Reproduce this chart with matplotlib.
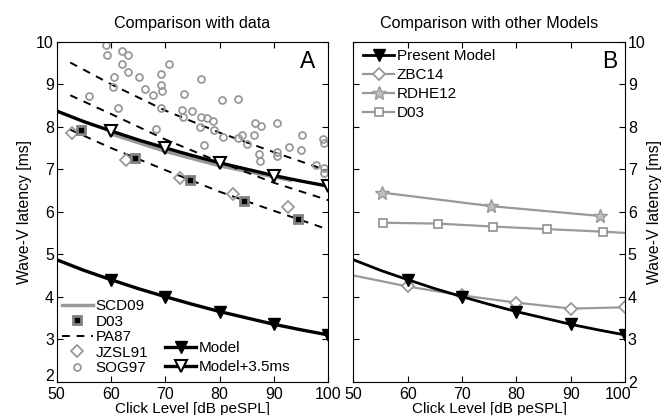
import matplotlib
matplotlib.use("Agg")
import matplotlib.pyplot as plt
import matplotlib.transforms as mtransforms
import numpy as np

plt.rcParams['font.family'] = ['Liberation Sans', 'DejaVu Sans']
plt.rcParams['font.size'] = 11

# --- data ---
levels = [50, 55, 60, 65, 70, 75, 80, 85, 90, 95, 100]
model = [4.87, 4.62, 4.40, 4.19, 4.00, 3.82, 3.65, 3.50, 3.35, 3.22, 3.10]
shift = 3.5

scd09_x = [60, 70, 80, 90, 93]
scd09_y = [7.83, 7.42, 7.08, 6.82, 6.74]

d03_x = [54.5, 64.5, 74.5, 84.5, 94.5]
d03_y = [7.93, 7.27, 6.75, 6.25, 5.83]

jzsl_x = [52.8, 62.8, 72.7, 82.5, 92.6]
jzsl_y = [7.86, 7.22, 6.80, 6.42, 6.10]

pa87_x = [52.5, 60, 70, 80, 90, 100]
pa87_hi = [9.51, 9.00, 8.38, 7.86, 7.40, 6.96]
pa87_mid = [8.74, 8.30, 7.70, 7.17, 6.68, 6.27]
pa87_lo = [7.93, 7.50, 6.98, 6.47, 6.02, 5.58]

sog97_x = [59.1, 59.2, 62.0, 63.1, 62.0, 63.1, 60.6, 60.4, 65.2, 70.6,
           69.2, 69.2, 69.3, 66.3, 67.8, 56.0, 61.2, 69.2, 73.4, 73.0,
           73.3, 74.9, 68.2, 76.5, 80.4, 83.4, 76.5, 77.7, 78.8, 76.4,
           79.0, 80.6, 84.1, 83.4, 86.4, 86.5, 87.6, 90.6, 95.1, 99.0,
           99.3, 77.1, 92.7, 85.0, 87.3, 87.4, 90.5, 90.6, 95.0, 97.8,
           99.3, 99.3]
sog97_y = [9.92, 9.69, 9.79, 9.69, 9.48, 9.29, 9.16, 8.93, 9.16, 9.48,
           9.25, 8.99, 8.83, 8.89, 8.75, 8.72, 8.45, 8.45, 8.77, 8.40,
           8.23, 8.36, 7.95, 9.13, 8.63, 8.65, 8.24, 8.20, 8.14, 7.99,
           7.92, 7.76, 7.80, 7.73, 7.80, 8.09, 8.01, 8.09, 7.80, 7.71,
           7.61, 7.58, 7.52, 7.59, 7.36, 7.19, 7.41, 7.31, 7.44, 7.10,
           7.02, 6.90]

# other models (panel B)
zbc_x = [50, 60, 70, 80, 90, 100]
zbc_y = [4.50, 4.24, 4.03, 3.86, 3.72, 3.75]
rdhe_x = [55.3, 75.4, 95.4]
rdhe_y = [6.45, 6.13, 5.90]
d03b_x = [55.5, 65.5, 75.7, 85.7, 95.9, 105.9]
d03b_y = [5.74, 5.72, 5.65, 5.59, 5.53, 5.46]

gray = '0.6'
model = np.array(model)

fig = plt.figure(figsize=(6.62, 4.15), dpi=100)
axA = fig.add_axes([0.0856, 0.0803, 0.4103, 0.8192])
axB = fig.add_axes([0.5337, 0.0803, 0.4105, 0.8192])

def nudge(lbls, dx, dy):
    off = mtransforms.ScaledTranslation(dx / 72, dy / 72, fig.dpi_scale_trans)
    for lbl in lbls:
        lbl.set_transform(lbl.get_transform() + off)

def style(ax, lift):
    ax.set_xlim(50, 100)
    ax.set_ylim(2, 10)
    ax.set_xticks(range(50, 101, 10))
    ax.set_yticks(range(2, 11))
    ax.tick_params(direction='in', top=True, right=True, length=4,
                   labelsize=11.5, pad=2)
    ax.tick_params(axis='x', pad=3.5)
    for s in ax.spines.values():
        s.set_linewidth(0.8)
    ax.set_xlabel('Click Level [dB peSPL]', fontsize=11, labelpad=0)
    # lift the bottom "2" label a little, as in the original
    t0 = ax.yaxis.get_major_ticks()[0]
    nudge([t0.label1, t0.label2], 0, lift)

# ---------- panel A ----------
style(axA, 5)
l_scd, = axA.plot(scd09_x, scd09_y, color=gray, lw=2.5)
for yy in (pa87_hi, pa87_mid, pa87_lo):
    l_pa, = axA.plot(pa87_x, yy, 'k--', lw=1.4, dashes=(4, 3.5))
l_sog, = axA.plot(sog97_x, sog97_y, 'o', ls='none', mfc='none', mec=gray,
                  ms=5, mew=1.3)
l_jz, = axA.plot(jzsl_x, jzsl_y, 'D', ls='none', mfc='none', mec=gray,
                 ms=6.5, mew=1.3)
l_d03, = axA.plot(d03_x, d03_y, 's', ls='none', mfc='k', mec='0.5',
                  ms=6, mew=2)
l_mod, = axA.plot(levels, model, 'k-', lw=2.4, marker='v', ms=9,
                  markevery=slice(2, None, 2))
l_mod2, = axA.plot(levels, model + shift, 'k-', lw=2.4, marker='v', ms=9,
                   mfc='white', mew=1.5, markevery=slice(2, None, 2))
axA.set_ylabel('Wave-V latency [ms]', fontsize=11.3, labelpad=3)
axA.set_title('Comparison with data', fontsize=11.6, pad=10)
axA.text(0.952, 0.975, 'A', transform=axA.transAxes, ha='right', va='top',
         fontsize=16.5)

leg1 = axA.legend([l_scd, l_d03, l_pa, l_jz, l_sog],
                  ['SCD09', 'D03', 'PA87', 'JZSL91', 'SOG97'],
                  loc='upper left', bbox_to_anchor=(0.02, 0.242),
                  frameon=False, fontsize=11, handlelength=2.0,
                  handletextpad=0.2, labelspacing=0.09, borderpad=0,
                  borderaxespad=0)
axA.add_artist(leg1)
axA.legend([l_mod, l_mod2], ['Model', 'Model+3.5ms'],
           loc='upper left', bbox_to_anchor=(0.40, 0.12),
           frameon=False, fontsize=11, handlelength=2.0,
           handletextpad=0.2, labelspacing=0.33, borderpad=0,
           borderaxespad=0)

# ---------- panel B ----------
style(axB, 7)
axB.yaxis.tick_right()
axB.yaxis.set_label_position('right')
axB.tick_params(left=True, right=True, direction='in')
tl = axB.xaxis.get_major_ticks()[-1]
nudge([tl.label1], -5, 0)
b_mod, = axB.plot(levels, model, 'k-', lw=2.0, marker='v', ms=9,
                  markevery=slice(2, None, 2), zorder=3)
b_zbc, = axB.plot(zbc_x, zbc_y, '-', color=gray, lw=1.6, marker='D',
                  mfc='white', mec=gray, ms=6.5, mew=1.3,
                  markevery=slice(1, None))
b_rdhe, = axB.plot(rdhe_x, rdhe_y, '-', color=gray, lw=1.6, marker='*',
                   mfc='0.75', mec=gray, ms=10, mew=1.0)
b_d03, = axB.plot(d03b_x, d03b_y, '-', color=gray, lw=1.6, marker='s',
                  mfc='white', mec=gray, ms=6, mew=1.3)
axB.set_ylabel('Wave-V latency [ms]', fontsize=11.3, labelpad=1)
axB.set_title('Comparison with other Models', fontsize=11.6, pad=10)
axB.text(0.97, 0.975, 'B', transform=axB.transAxes, ha='right', va='top',
         fontsize=16.5)
axB.legend([b_mod, b_zbc, b_rdhe, b_d03],
           ['Present Model', 'ZBC14', 'RDHE12', 'D03'],
           loc='upper left', bbox_to_anchor=(0.037, 0.978),
           frameon=False, fontsize=11, handlelength=2.0,
           handletextpad=0.2, labelspacing=0.32, borderpad=0,
           borderaxespad=0)

fig.savefig('out.png', dpi=100)
